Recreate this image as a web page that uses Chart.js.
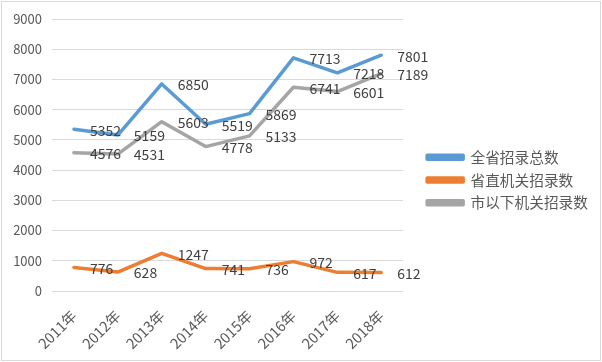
<!DOCTYPE html>
<html>
<head>
<meta charset="utf-8">
<script src="https://cdn.jsdelivr.net/npm/chart.js@4/dist/chart.umd.min.js"></script>
<style>
  html, body { margin: 0; padding: 0; background: #fff; }
  #wrap { width: 602px; height: 362px; position: relative; }
</style>
</head>
<body>
<div id="wrap"><canvas id="chart" width="602" height="362"></canvas></div>
<script>
const years = ['2011年', '2012年', '2013年', '2014年', '2015年', '2016年', '2017年', '2018年']
const total = [5352, 5159, 6850, 5519, 5869, 7713, 7218, 7801]
const provincial = [776, 628, 1247, 741, 736, 972, 617, 612]
const cityBelow = [4576, 4531, 5603, 4778, 5133, 6741, 6601, 7189]

const FONT = '"Noto Sans CJK SC", "Noto Sans", sans-serif'

// value labels to the right of each point
const valueLabels = {
  id: 'valueLabels',
  afterDatasetsDraw(chart) {
    const ctx = chart.ctx
    ctx.save()
    ctx.font = '14px ' + FONT
    ctx.fillStyle = '#404040'
    ctx.textAlign = 'left'
    ctx.textBaseline = 'middle'
    chart.data.datasets.forEach((ds, i) => {
      chart.getDatasetMeta(i).data.forEach((pt, j) => {
        ctx.fillText(ds.data[j], pt.x + 16, pt.y + 1)
      })
    })
    ctx.restore()
  }
}

const frame = {
  id: 'frame',
  beforeDraw(chart) {
    const ctx = chart.ctx
    ctx.save()
    ctx.fillStyle = '#fff'
    ctx.fillRect(0, 0, chart.width, chart.height)
    ctx.strokeStyle = '#d9d9d9'
    ctx.lineWidth = 1
    ctx.strokeRect(1.5, 1.5, chart.width - 3, chart.height - 3)
    ctx.restore()
  }
}

const data = {
  labels: years,
  datasets: [
    { label: '全省招录总数', data: total, borderColor: '#5b9bd5', backgroundColor: '#5b9bd5' },
    { label: '省直机关招录数', data: provincial, borderColor: '#ed7d31', backgroundColor: '#ed7d31' },
    { label: '市以下机关招录数', data: cityBelow, borderColor: '#a5a5a5', backgroundColor: '#a5a5a5' }
  ]
}
data.datasets.forEach(ds => {
  ds.borderWidth = 3.5
  ds.pointRadius = 0
  ds.tension = 0
  ds.borderCapStyle = 'round'
  ds.borderJoinStyle = 'round'
})

const config = {
  type: 'line',
  data: data,
  options: {
    responsive: false,
    animation: false,
    layout: { padding: { top: 19, left: 0, right: 4, bottom: 0 } },
    scales: {
      x: {
        offset: true,
        grid: { display: false },
        border: { display: false },
        ticks: { color: '#595959', font: { family: FONT, size: 14.5 }, minRotation: 45, maxRotation: 45, padding: 8 },
        afterFit: s => { s.height = 71 }
      },
      y: {
        min: 0,
        max: 9000,
        grid: { color: '#d9d9d9', drawTicks: false },
        border: { display: false },
        ticks: { stepSize: 1000, color: '#595959', font: { family: FONT, size: 13 }, padding: 10, callback: v => String(v) },
        afterFit: s => { s.width = 52 }
      },
      gap: {
        type: 'linear',
        position: 'right',
        display: true,
        grid: { display: false },
        border: { display: false },
        ticks: { display: false },
        afterFit: s => { s.width = 16 }
      }
    },
    plugins: {
      legend: {
        position: 'right',
        align: 'start',
        maxWidth: 260,
        title: { display: true, text: ' ', font: { size: 10 }, padding: { top: 111, bottom: 0 } },
        labels: {
          boxWidth: 36,
          boxHeight: 4,
          padding: 8,
          color: '#595959',
          font: { family: FONT, size: 14.7 }
        }
      },
      tooltip: { enabled: false }
    }
  },
  plugins: [frame, valueLabels]
}

let chart = new Chart(document.querySelector('#chart'), config)
</script>
</body>
</html>
